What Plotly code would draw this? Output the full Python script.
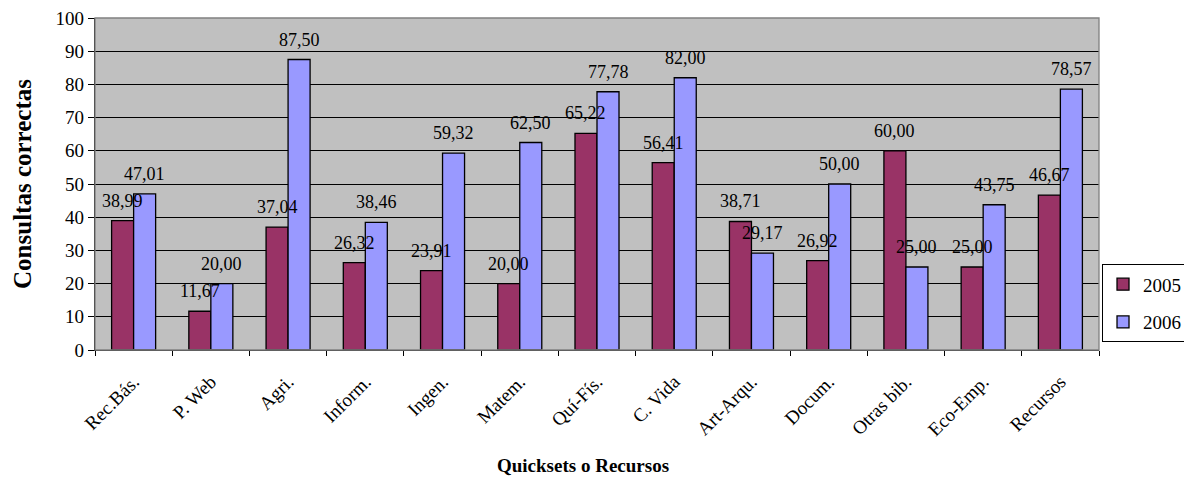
import plotly.graph_objects as go

categories = ["Rec.Bás.", "P. Web", "Agri.", "Inform.", "Ingen.", "Matem.", "Quí-Fís.",
              "C. Vida", "Art-Arqu.", "Docum.", "Otras bib.", "Eco-Emp.", "Recursos"]
v2005 = [38.99, 11.67, 37.04, 26.32, 23.91, 20.00, 65.22, 56.41, 38.71, 26.92, 60.00, 25.00, 46.67]
v2006 = [47.01, 20.00, 87.50, 38.46, 59.32, 62.50, 77.78, 82.00, 29.17, 50.00, 25.00, 43.75, 78.57]
series_names = ["2005", "2006"]
series_colors = ["#993366", "#9999FF"]
x_title = "Quicksets o Recursos"
y_title = "Consultas correctas"

FONT = "Liberation Serif"
BARGAP = 0.43

def fmt(v):
    return f"{v:.2f}".replace(".", ",")

fig = go.Figure()
for name, vals, col in zip(series_names, [v2005, v2006], series_colors):
    fig.add_trace(go.Bar(
        x=categories, y=vals, name=name, legendgroup=name,
        marker=dict(color=col, line=dict(color="black", width=1.3)),
    ))

# data labels above each bar
bw = (1 - BARGAP) / 2
for si, vals in enumerate([v2005, v2006]):
    off = -bw / 2 if si == 0 else bw / 2
    for i, v in enumerate(vals):
        fig.add_annotation(
            x=i + off, y=v, xref="x", yref="y", text=fmt(v), showarrow=False,
            yanchor="bottom", yshift=8, font=dict(family=FONT, size=18, color="black"),
        )

# x-axis title (Excel centres it on the chart area, slightly left of the plot centre)
fig.add_annotation(
    x=0.486, y=-0.349, xref="paper", yref="paper", text=f"<b>{x_title}</b>",
    showarrow=False, xanchor="center", yanchor="middle",
    font=dict(family=FONT, size=19, color="black"),
)

fig.add_shape(type="rect", xref="paper", yref="paper", x0=0, x1=1, y0=0, y1=1,
              line=dict(color="#808080", width=1.3), layer="above")

fig.update_layout(
    width=1184, height=477,
    margin=dict(l=95, r=85, t=18, b=127, autoexpand=False),
    paper_bgcolor="white", plot_bgcolor="#C0C0C0",
    barmode="group", bargap=BARGAP, bargroupgap=0,
    font=dict(family=FONT, color="black", size=17),
    showlegend=True,
    legend=dict(x=1.003, xanchor="left", y=0.258, yanchor="top",
                bgcolor="white", bordercolor="black", borderwidth=1,
                font=dict(family=FONT, size=19), tracegroupgap=10,
                itemwidth=30),
    xaxis=dict(
        type="category", tickson="boundaries", ticks="outside", ticklen=5,
        tickcolor="black", tickwidth=1, tickangle=-45,
        tickfont=dict(family=FONT, size=19), ticklabelstandoff=12,
        showline=True, linecolor="black", linewidth=1.3, showgrid=False,
    ),
    yaxis=dict(
        range=[0, 100], dtick=10, ticks="outside", ticklen=6, tickcolor="black",
        tickfont=dict(family=FONT, size=19),
        showline=True, linecolor="black", linewidth=1.3,
        showgrid=True, gridcolor="black", gridwidth=1, zeroline=False,
        title=dict(text=f"<b>{y_title}</b>", font=dict(family=FONT, size=25),
                   standoff=16),
    ),
)

fig.write_html("out.html")
